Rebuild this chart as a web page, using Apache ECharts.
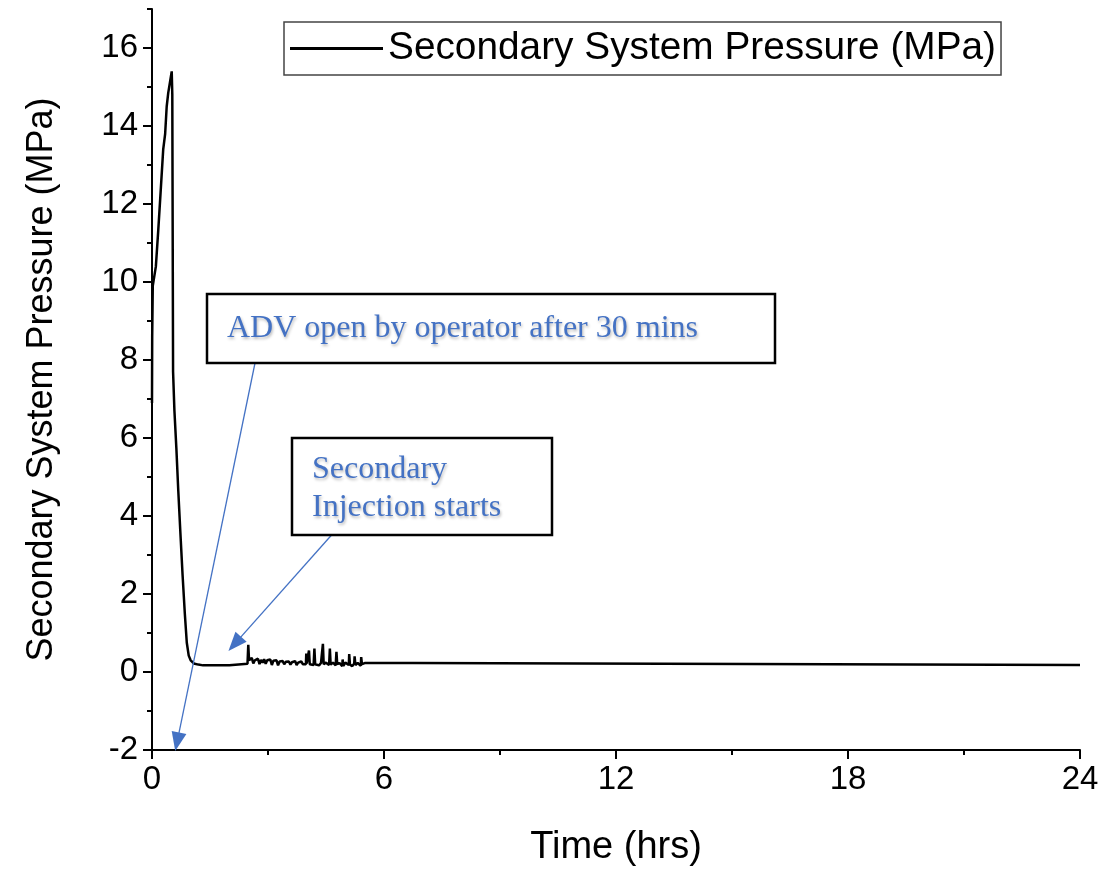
<!DOCTYPE html>
<html>
<head>
<meta charset="utf-8">
<script src="https://cdn.jsdelivr.net/npm/echarts@6/dist/echarts.min.js"></script>
<style>
html,body{margin:0;padding:0;background:#fff;}
#chart{width:1110px;height:872px;}
</style>
</head>
<body>
<div id="chart"></div>
<script>
// ---- data ----
const timeHrs = [
  0, 0.005, 0.02, 0.1, 0.16, 0.21, 0.29, 0.34, 0.38, 0.42, 0.46, 0.51, 0.525, 0.535,
  0.545, 0.58, 0.63, 0.68, 0.735, 0.79, 0.85, 0.9, 0.95, 1.0, 1.08, 1.2, 1.32, 2.0, 2.05,
  2.47, 2.49, 2.51, 2.55, 2.58, 2.62, 2.66, 2.7, 2.74, 2.78, 2.82, 2.86, 2.9, 2.94,
  2.98, 3.02, 3.06, 3.1, 3.14, 3.18, 3.22, 3.26, 3.3, 3.34, 3.38, 3.42, 3.46, 3.5,
  3.54, 3.58, 3.62, 3.66, 3.7, 3.74, 3.78, 3.82, 3.86, 3.9, 3.95,
  3.98, 3.99, 4.0, 4.03, 4.06, 4.08, 4.13, 4.18, 4.2, 4.22, 4.27, 4.32, 4.37,
  4.41, 4.42, 4.44, 4.5, 4.58, 4.6, 4.62, 4.68, 4.75, 4.77, 4.79, 4.85, 4.92,
  4.93, 4.95, 5.0, 5.09, 5.1, 5.12, 5.18, 5.23, 5.24, 5.26, 5.32, 5.4, 5.41, 5.43,
  5.5, 6.75, 6.8, 24
];
const pressureMPa = [
  6.9, 8.6, 9.9, 10.4, 11.3, 12.1, 13.4, 13.8, 14.5, 14.85, 14.85, 15.4, 14.8, 14.75,
  7.7, 6.7, 5.74, 4.64, 3.55, 2.5, 1.48, 0.75, 0.42, 0.3, 0.22, 0.19, 0.17, 0.17, 0.21,
  0.21, 0.7, 0.3, 0.26, 0.36, 0.22, 0.3, 0.25, 0.34, 0.2, 0.31, 0.24, 0.33, 0.21,
  0.3, 0.26, 0.32, 0.18, 0.29, 0.24, 0.3, 0.17, 0.27, 0.23, 0.28, 0.2, 0.26, 0.22,
  0.27, 0.19, 0.25, 0.21, 0.28, 0.18, 0.24, 0.2, 0.27, 0.2, 0.22,
  0.2, 0.47, 0.22, 0.18, 0.55, 0.2, 0.24, 0.18, 0.6, 0.2, 0.24, 0.17, 0.23,
  0.19, 0.72, 0.2, 0.24, 0.18, 0.6, 0.19, 0.24, 0.17, 0.52, 0.2, 0.23, 0.15,
  0.32, 0.16, 0.24, 0.18, 0.46, 0.19, 0.15, 0.22, 0.4, 0.18, 0.23, 0.16, 0.38, 0.2,
  0.23, 0.23, 0.18, 0.18
];
const seriesName = 'Secondary System Pressure (MPa)';
const xTitle = 'Time (hrs)';
const yTitle = 'Secondary System Pressure (MPa)';
const yMajorTicks = [-2, 0, 2, 4, 6, 8, 10, 12, 14, 16];
const yMinorTicks = [-1, 1, 3, 5, 7, 9, 11, 13, 15, 17];
// annotation arrows: [start time, start pressure, end time, end pressure]
const arrowADV = [2.68, 8.0, 0.65, -1.79];
const arrowInjection = [4.65, 3.52, 2.14, 0.72];
const noteADV = 'ADV open by operator after 30 mins';
const noteInjection = ['Secondary', 'Injection starts'];

const seriesData = timeHrs.map((t, i) => [t, pressureMPa[i]]);

const chart = echarts.init(document.getElementById('chart'), null, {renderer: 'canvas'});
const blue = '#4472C4';
const sans = '"Liberation Sans", Arial, sans-serif';
const serif = '"Liberation Serif", "Times New Roman", serif';
const shadow = {textShadowColor: 'rgba(0,0,0,0.28)', textShadowBlur: 3, textShadowOffsetX: 1, textShadowOffsetY: 2};

chart.setOption({
  animation: false,
  backgroundColor: '#fff',
  grid: {left: 152, right: 30, top: 9, bottom: 109, containLabel: false},
  legend: {
    show: true,
    left: 284, top: 22,
    padding: [7, 5, 7, 6],
    borderColor: '#444', borderWidth: 1.5,
    itemWidth: 93, itemHeight: 3,
    icon: 'rect',
    textStyle: {fontFamily: sans, fontSize: 38.8, color: '#000'},
    data: [seriesName]
  },
  xAxis: {
    type: 'value', min: 0, max: 24, interval: 6,
    name: xTitle, nameLocation: 'middle', nameGap: 79,
    nameTextStyle: {fontFamily: sans, fontSize: 38, color: '#000'},
    axisLine: {show: true, onZero: false, lineStyle: {color: '#000', width: 2}},
    axisTick: {show: true, inside: false, length: 9, lineStyle: {color: '#000', width: 2}},
    minorTick: {show: true, splitNumber: 2, length: 5, lineStyle: {color: '#000', width: 2}},
    axisLabel: {fontFamily: sans, fontSize: 33, color: '#000', margin: 13},
    splitLine: {show: false}
  },
  yAxis: [{
    type: 'value', min: -2, max: 17, interval: 2,
    name: yTitle, nameLocation: 'middle', nameGap: 92, nameRotate: 90,
    nameTextStyle: {fontFamily: sans, fontSize: 36, color: '#000'},
    axisLine: {show: true, onZero: false, lineStyle: {color: '#000', width: 2}},
    axisTick: {show: true, inside: false, length: 9, customValues: yMajorTicks, lineStyle: {color: '#000', width: 2}},
    axisLabel: {fontFamily: sans, fontSize: 33, color: '#000', margin: 14, customValues: yMajorTicks},
    splitLine: {show: false}
  }, {
    type: 'value', min: -2, max: 17, interval: 1, position: 'left',
    axisLine: {show: false},
    axisTick: {show: true, inside: false, length: 5, customValues: yMinorTicks, lineStyle: {color: '#000', width: 2}},
    axisLabel: {show: false},
    splitLine: {show: false}
  }],
  series: [{
    name: seriesName,
    type: 'line',
    yAxisIndex: 0,
    data: seriesData,
    symbol: 'none',
    showSymbol: false,
    sampling: null,
    color: '#000',
    lineStyle: {color: '#000', width: 2.5},
    markLine: {
      silent: true,
      symbol: ['none', 'triangle'],
      symbolSize: [15, 19],
      label: {show: false},
      lineStyle: {color: blue, width: 1.3, type: 'solid'},
      itemStyle: {color: blue},
      emphasis: {disabled: true},
      data: [
        [{coord: [arrowADV[0], arrowADV[1]]}, {coord: [arrowADV[2], arrowADV[3]]}],
        [{coord: [arrowInjection[0], arrowInjection[1]]}, {coord: [arrowInjection[2], arrowInjection[3]]}]
      ]
    }
  }],
  graphic: [
    {type: 'rect', z: 100, shape: {x: 207, y: 294, width: 568, height: 69},
     style: {fill: '#fff', stroke: '#000', lineWidth: 2.5}},
    {type: 'text', z: 101, x: 227, y: 329,
     style: Object.assign({text: noteADV, font: '32px ' + serif, fill: blue, verticalAlign: 'middle'}, shadow)},
    {type: 'rect', z: 100, shape: {x: 292, y: 438, width: 260, height: 97},
     style: {fill: '#fff', stroke: '#000', lineWidth: 2.5}},
    {type: 'text', z: 101, x: 312, y: 470,
     style: Object.assign({text: noteInjection[0], font: '32px ' + serif, fill: blue, verticalAlign: 'middle'}, shadow)},
    {type: 'text', z: 101, x: 312, y: 508,
     style: Object.assign({text: noteInjection[1], font: '32px ' + serif, fill: blue, verticalAlign: 'middle'}, shadow)}
  ]
});
</script>
</body>
</html>
